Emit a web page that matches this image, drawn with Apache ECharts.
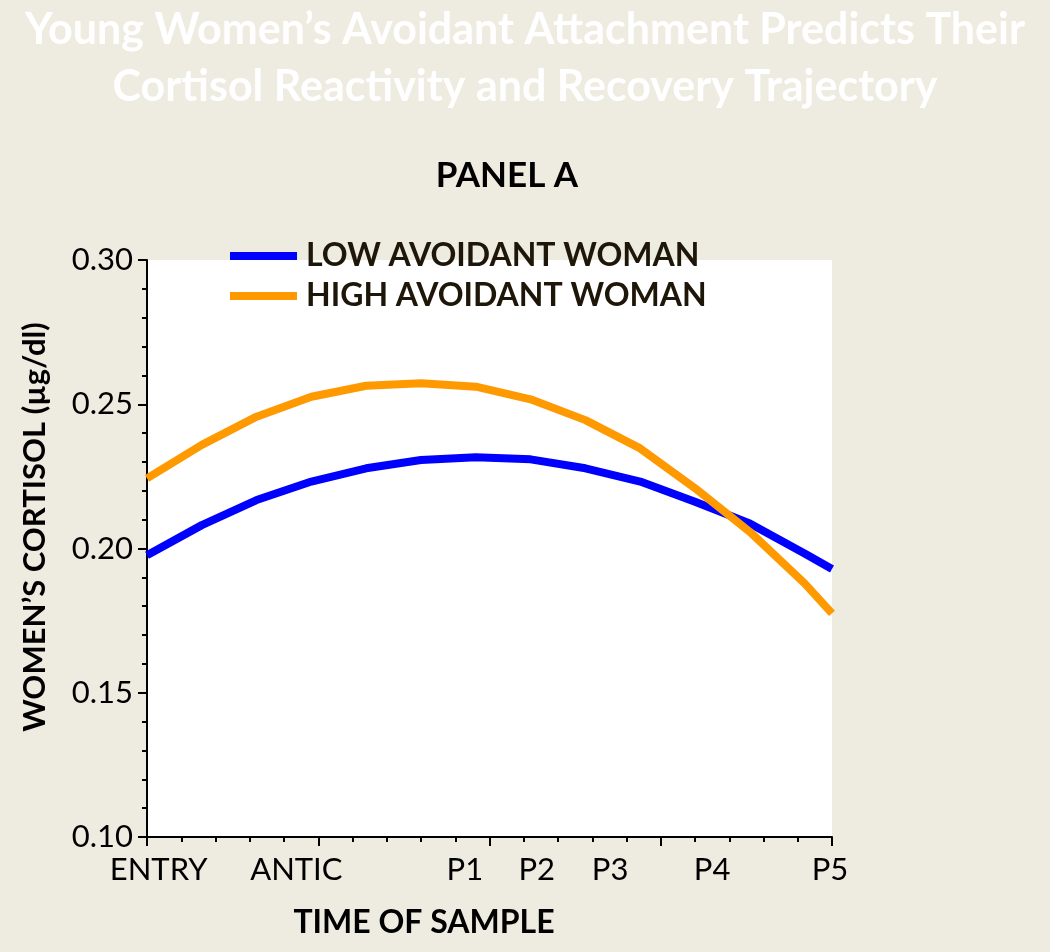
<!DOCTYPE html>
<html>
<head>
<meta charset="utf-8">
<script src="https://cdn.jsdelivr.net/npm/echarts@6/dist/echarts.min.js"></script>
<style>
html,body{margin:0;padding:0;background:#EEEBE1;}
#chart{width:1050px;height:952px;}
</style>
</head>
<body>
<div id="chart"></div>
<script>
// time position of each sample (axis units 0..100)
const timePoints = [0, 8, 16, 24, 32, 40, 48, 56, 64, 72, 80, 88, 96, 100];
const lowAvoidant = [0.1977, 0.2081, 0.2168, 0.2232, 0.2278, 0.2307, 0.2316, 0.2309, 0.2278, 0.2232, 0.2162, 0.2087, 0.1983, 0.1929];
const highAvoidant = [0.2243, 0.2359, 0.2457, 0.2526, 0.2564, 0.2573, 0.2561, 0.2517, 0.2445, 0.2347, 0.2209, 0.2058, 0.1879, 0.1775];
const sampleLabels = ['ENTRY', 'ANTIC', 'P1', 'P2', 'P3', 'P4', 'P5'];
const sampleLabelPos = [1.7, 21.8, 46.4, 56.9, 67.6, 82.5, 99.7];
const seriesNames = ['LOW AVOIDANT WOMAN', 'HIGH AVOIDANT WOMAN'];

const FONT = 'Lato, "Open Sans", sans-serif';
const chart = echarts.init(document.getElementById('chart'));
const pairs = arr => timePoints.map((t, i) => [t, arr[i]]);

chart.setOption({
  backgroundColor: '#EEEBE1',
  animation: false,
  title: {
    text: 'Young Women\u2019s Avoidant Attachment Predicts Their\nCortisol Reactivity and Recovery Trajectory',
    left: 'center',
    top: 2,
    padding: 0,
    textStyle: {color: '#ffffff', fontFamily: FONT, fontWeight: 'bold', fontSize: 43, lineHeight: 57}
  },
  graphic: [
    {type: 'text', x: 507, y: 176, style: {text: 'PANEL A', fontFamily: FONT, fontWeight: 'bold', fontSize: 35, fill: '#000', align: 'center', verticalAlign: 'middle'}},
    {type: 'text', x: 35, y: 527, rotation: Math.PI / 2, style: {text: 'WOMEN\u2019S CORTISOL (\u00b5g/dl)', fontFamily: FONT, fontWeight: 'bold', fontSize: 31, fill: '#000', align: 'center', verticalAlign: 'middle'}},
    {type: 'text', x: 424, y: 923, style: {text: 'TIME OF SAMPLE', fontFamily: FONT, fontWeight: 'bold', fontSize: 32, fill: '#000', align: 'center', verticalAlign: 'middle'}}
  ],
  legend: {
    data: seriesNames,
    orient: 'vertical',
    left: 230,
    top: 239,
    padding: 0,
    icon: 'rect',
    itemWidth: 67,
    itemHeight: 8,
    itemGap: 6,
    selectedMode: false,
    textStyle: {fontFamily: FONT, fontWeight: 'bold', fontSize: 32, color: '#1e1608', lineHeight: 34, padding: [0, 0, 0, 4]}
  },
  grid: {
    left: 147, right: 218, top: 260, bottom: 115,
    show: true, backgroundColor: '#ffffff', borderWidth: 0,
    outerBoundsMode: 'none'
  },
  xAxis: {
    type: 'value',
    min: 0, max: 100, interval: 25,
    axisLine: {show: true, onZero: false, lineStyle: {color: '#000', width: 2}},
    axisTick: {show: true, length: 9, lineStyle: {color: '#000', width: 2}},
    minorTick: {show: true, splitNumber: 5, length: 5, lineStyle: {color: '#000', width: 2}},
    splitLine: {show: false},
    axisLabel: {
      customValues: sampleLabelPos,
      formatter: v => sampleLabels[sampleLabelPos.indexOf(v)],
      fontFamily: FONT, fontSize: 31, color: '#000', margin: 17
    }
  },
  yAxis: {
    type: 'value',
    min: 0.10, max: 0.30, interval: 0.05,
    axisLine: {show: true, lineStyle: {color: '#000', width: 2}},
    axisTick: {show: true, length: 9, lineStyle: {color: '#000', width: 2}},
    minorTick: {show: true, splitNumber: 5, length: 5, lineStyle: {color: '#000', width: 2}},
    splitLine: {show: false},
    axisLabel: {formatter: v => v.toFixed(2), fontFamily: FONT, fontSize: 31, color: '#000', margin: 14}
  },
  series: [
    {name: seriesNames[0], type: 'line', data: pairs(lowAvoidant), showSymbol: false, symbol: 'none', smooth: false,
     lineStyle: {color: '#0000FF', width: 8}, itemStyle: {color: '#0000FF'}, z: 2},
    {name: seriesNames[1], type: 'line', data: pairs(highAvoidant), showSymbol: false, symbol: 'none', smooth: false,
     lineStyle: {color: '#FF9900', width: 8}, itemStyle: {color: '#FF9900'}, z: 3}
  ]
});
</script>
</body>
</html>
